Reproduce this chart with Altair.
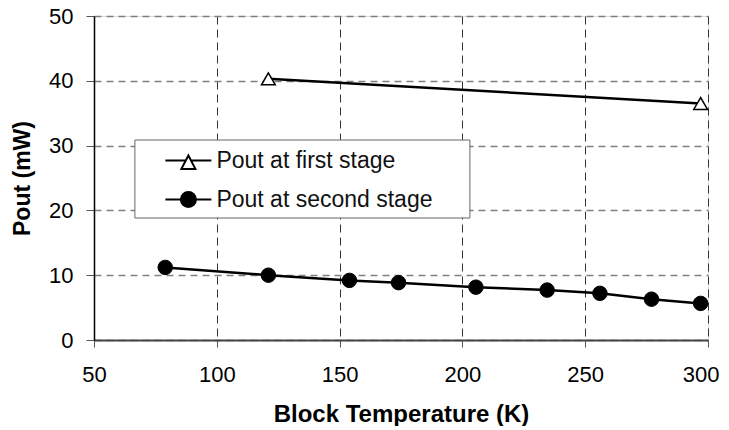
import altair as alt
import pandas as pd

# ---- data ----
first_temp = [121, 297]
first_pout = [40.3, 36.5]
second_temp = [79, 121, 154, 174, 205.5, 234.5, 256, 277, 297]
second_pout = [11.2, 10.0, 9.2, 8.85, 8.15, 7.7, 7.2, 6.3, 5.65]
series_names = ["Pout at first stage", "Pout at second stage"]
x_ticks = [50, 100, 150, 200, 250, 300]
y_ticks = [0, 10, 20, 30, 40, 50]

df1 = pd.DataFrame({"T": first_temp, "P": first_pout, "series": series_names[0]})
df2 = pd.DataFrame({"T": second_temp, "P": second_pout, "series": series_names[1]})
df = pd.concat([df1, df2], ignore_index=True)

FONT = "Liberation Sans"

x_enc = alt.X(
    "T:Q",
    scale=alt.Scale(domain=[50, 300], nice=False, zero=False),
    axis=alt.Axis(
        values=x_ticks, title="Block Temperature (K)", format="d",
        labelFontSize=22, labelPadding=17, tickSize=7, tickColor="#555",
        labelFlush=False, labelOverlap=False,
        labelAlign={"expr": "datum.value == 300 ? 'right' : 'center'"},
        labelOffset={"expr": "datum.value == 300 ? 11 : 0"},
        domainColor="#444", domainWidth=2,
        gridColor="#333", gridDash=[8, 5], gridWidth=1,
        titleFontSize=24, titleFontWeight="bold", titleY=62, titleBaseline="top",
    ),
)
y_enc = alt.Y(
    "P:Q",
    scale=alt.Scale(domain=[0, 50], nice=False),
    axis=alt.Axis(
        values=y_ticks, title="Pout (mW)", format="d",
        labelFontSize=22, labelPadding=13, tickSize=8, tickColor="#555",
        labelFlush=False, labelOverlap=False,
        domainColor="#000", domainWidth=1.5,
        gridColor="#808080", gridDash=[7, 5], gridWidth=1.3,
        titleFontSize=23, titleFontWeight="bold", titleX=-72, titleY=162,
        titleBaseline="middle", titleAngle=270,
    ),
)

base = alt.Chart(df).encode(x=x_enc, y=y_enc)

lines = base.mark_line(color="black", strokeWidth=2.5).encode(detail="series:N")

tri = alt.Chart(df1).mark_point(
    shape="triangle-up", filled=True, fill="white", stroke="black",
    strokeWidth=1.5, size=190, opacity=1,
).encode(x="T:Q", y="P:Q")

dots = alt.Chart(df2).mark_point(
    shape="circle", filled=True, fill="black", stroke="black",
    strokeWidth=1, size=210, opacity=1,
).encode(x="T:Q", y="P:Q")

tri_sym = ("M-1.643,0 L-0.19,0 M0.19,0 L1.643,0 "
           "M0,-0.36 L0.5,0.6 L-0.5,0.6 Z")
dot_sym = ("M-1.643,0 L-0.536,0 M0.536,0 L1.643,0 "
           "M-0.536,0 A0.536,0.536 0 1,0 0.536,0 A0.536,0.536 0 1,0 -0.536,0 Z")

legend = alt.Legend(
    title=None, orient="none", legendX=40.4, legendY=123.5,
    fillColor="white", strokeColor="#666", padding=6,
    symbolSize=784, symbolStrokeWidth=2, symbolOffset=33,
    labelOffset=13, labelFontSize=23, labelFont=FONT, labelColor="#111",
    labelLimit=500, rowPadding=11,
    labelExpr="datum.label + '\u00a0\u00a0\u00a0\u00a0\u2009\u200b'",
)

legend_layer = alt.Chart(df).transform_filter("false").mark_point(
    stroke="black", strokeWidth=2, opacity=1
).encode(
    x="T:Q", y="P:Q",
    shape=alt.Shape("series:N", scale=alt.Scale(domain=series_names, range=[tri_sym, dot_sym]), legend=legend),
    fill=alt.Fill("series:N", scale=alt.Scale(domain=series_names, range=["white", "black"]), legend=legend),
)

chart = alt.layer(lines, tri, dots, legend_layer).properties(
    width=614, height=324,
    autosize=alt.AutoSizeParams(type="none"),
    padding={"left": 86, "top": 8, "right": 13, "bottom": 86},
).configure_view(
    stroke="#808080", strokeWidth=1.5
).configure_axis(
    labelFont=FONT, titleFont=FONT, labelColor="#111", titleColor="#111",
).configure(background="white")

chart.save("out.html", embed_options={"renderer": "svg", "actions": False})
